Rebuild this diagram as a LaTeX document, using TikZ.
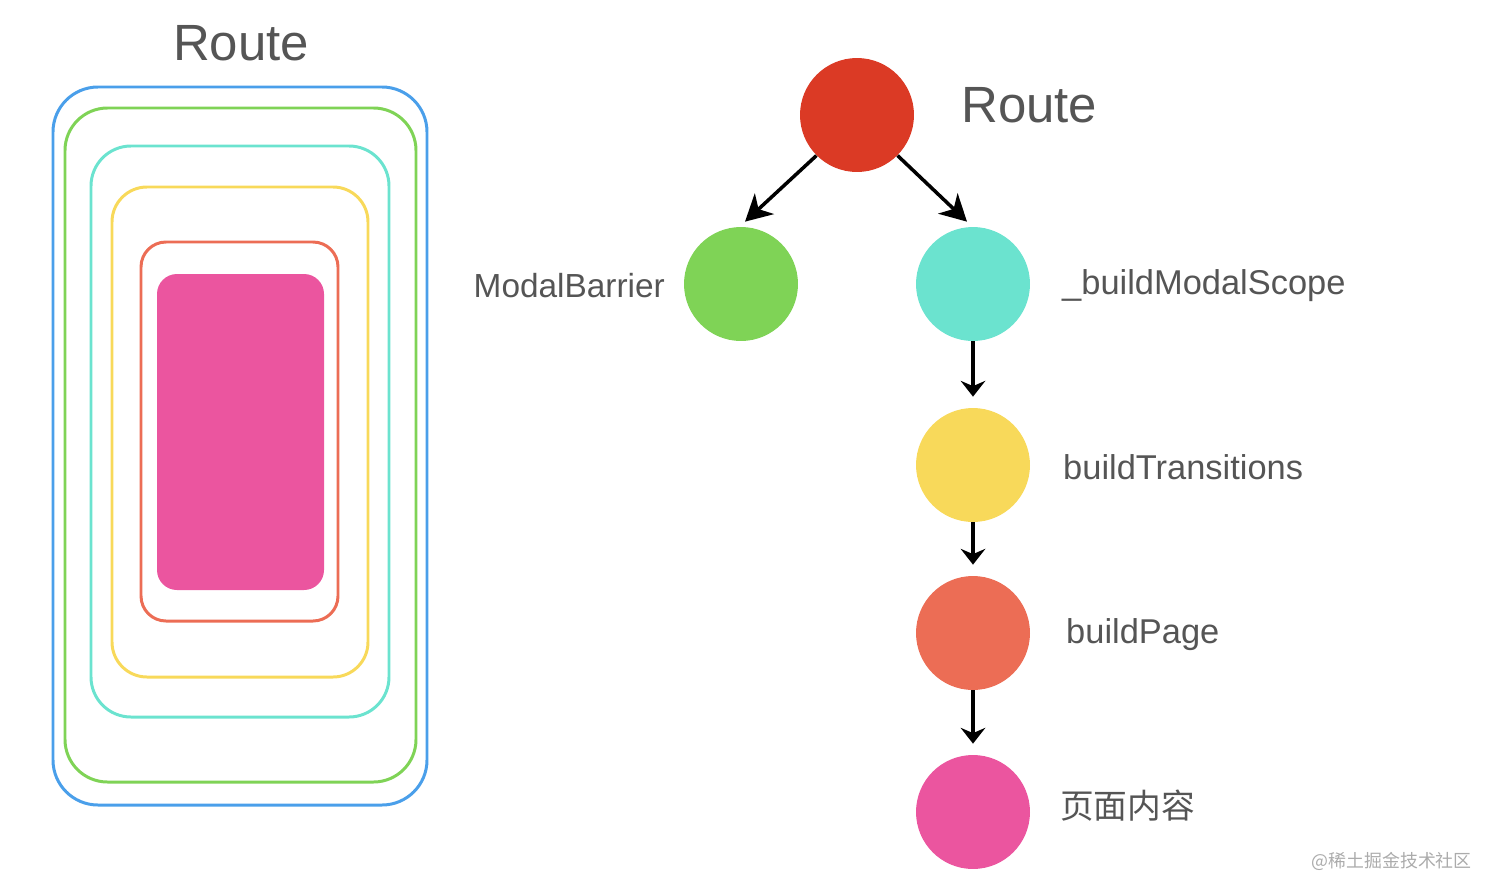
\documentclass[tikz,border=0pt]{standalone}
\usepackage{fontspec}
\setmainfont{Liberation Sans}
\newfontfamily\cjk{Noto Sans CJK SC}
\usetikzlibrary{arrows.meta}

\definecolor{txtgray}{HTML}{555555}
\definecolor{wmgray}{HTML}{ABABAB}
\definecolor{cblue}{HTML}{4A9FEA}
\definecolor{cgreen}{HTML}{7FD356}
\definecolor{ccyan}{HTML}{6BE3CF}
\definecolor{cyellow}{HTML}{F8D95A}
\definecolor{corange}{HTML}{EC6D55}
\definecolor{cpink}{HTML}{EB559F}
\definecolor{cred}{HTML}{DB3A25}

\begin{document}
\begin{tikzpicture}[x=0.02cm,y=-0.02cm,
    layer/.style={line width=1.7pt},
    ball/.style={circle,minimum size=2.28cm,inner sep=0pt},
    lbl/.style={text=txtgray,font=\fontsize{19.6}{23}\selectfont},
    arr/.style={line width=2pt,-{Stealth[length=15pt,width=16pt,inset=4.5pt]}},
    down/.style={line width=2pt,-{Stealth[length=9pt,width=14pt,inset=3pt]},shorten >=0.22cm}]
    \useasboundingbox (0,0) rectangle (1498,896);

    % Nested layers of the route
    \draw[layer,cblue,rounded corners=0.9cm] (53,87) rectangle (427,805);
    \draw[layer,cgreen,rounded corners=0.85cm] (65,108) rectangle (416,782);
    \draw[layer,ccyan,rounded corners=0.8cm] (91,146) rectangle (389,717);
    \draw[layer,cyellow,rounded corners=0.7cm] (112,187) rectangle (368,677);
    \draw[layer,corange,rounded corners=0.5cm] (141,242) rectangle (338,621);
    \fill[cpink,rounded corners=0.4cm] (157,274) rectangle (324,590);
    \node[text=txtgray,font=\fontsize{29}{34}\selectfont] (title) at (241,43) {Route};

    % Tree of widgets
    \node[ball,fill=cred] (route) at (857,115) {};
    \node[ball,fill=cgreen] (barrier) at (741,284) {};
    \node[ball,fill=ccyan] (scope) at (973,284) {};
    \node[ball,fill=cyellow] (trans) at (973,465) {};
    \node[ball,fill=corange] (page) at (973,633) {};
    \node[ball,fill=cpink] (content) at (973,812) {};

    % Labels
    \node[text=txtgray,font=\fontsize{29}{34}\selectfont,anchor=west] (routelbl) at (955,105) {Route};
    \node[lbl,anchor=east,font=\fontsize{19}{23}\selectfont] (barrierlbl) at (671,286) {ModalBarrier};
    \node[lbl,anchor=west] (scopelbl) at (1056,286) {\_buildModalScope};
    \node[lbl,anchor=west] (translbl) at (1057,467) {buildTransitions};
    \node[lbl,anchor=west] (pagelbl) at (1060,635) {buildPage};
    \node[lbl,anchor=west,font=\cjk\fontsize{19.2}{22}\selectfont] (contentlbl) at (1054,806) {页面内容};
    \node[text=wmgray,anchor=east,font=\cjk\fontsize{10.2}{12}\selectfont] (mark) at (1478,861) {@稀土掘金技术社区};

    % Arrows
    \draw[arr] (route.225) -- ([xshift=0.08cm,yshift=0.1cm]barrier.north);
    \draw[arr] (route.-45) -- ([xshift=-0.12cm,yshift=0.1cm]scope.north);
    \draw[down] (scope) -- (trans);
    \draw[down] (trans) -- (page);
    \draw[down] (page) -- (content);
\end{tikzpicture}
\end{document}
